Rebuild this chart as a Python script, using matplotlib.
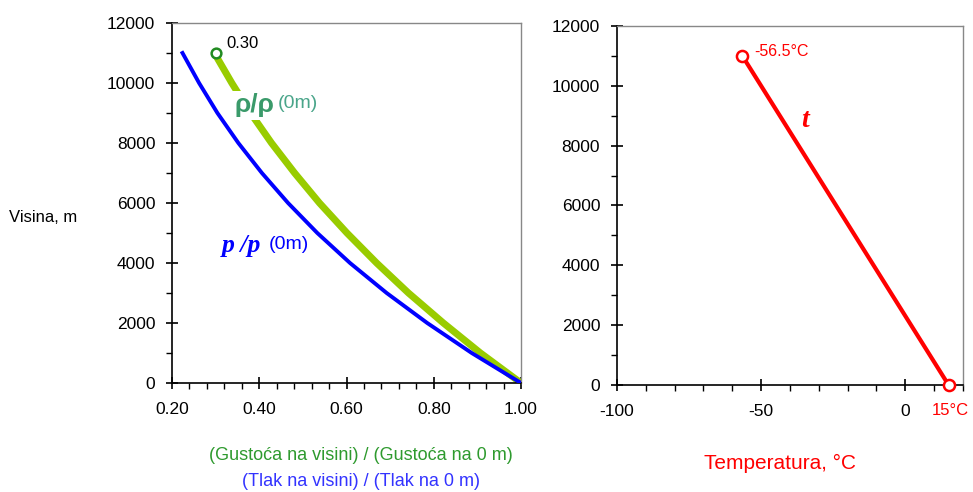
import matplotlib
matplotlib.use('Agg')
import matplotlib.pyplot as plt
from matplotlib.ticker import MultipleLocator, FormatStrFormatter

plt.rcParams['font.family'] = ['Liberation Sans', 'DejaVu Sans']
plt.rcParams['axes.unicode_minus'] = False

# ISA standard atmosphere
heights = [0, 1000, 2000, 3000, 4000, 5000, 6000, 7000, 8000, 9000, 10000, 11000]
pressure_ratio = [1.000, 0.887, 0.785, 0.692, 0.608, 0.533, 0.466, 0.406, 0.352, 0.304, 0.262, 0.224]
density_ratio = [1.000, 0.907, 0.822, 0.742, 0.669, 0.601, 0.538, 0.481, 0.428, 0.380, 0.337, 0.297]

temp_heights = [0, 11000]
temperatures = [15.0, -56.5]

density_top = 0.30


def style_axes(ax):
    for side in ['top', 'right']:
        ax.spines[side].set_color('#888888')
        ax.spines[side].set_linewidth(1.0)
    for side in ['left', 'bottom']:
        ax.spines[side].set_color('black')
        ax.spines[side].set_linewidth(1.2)
    ax.tick_params(which='major', direction='inout', length=8, width=1.2, labelsize=12.5, pad=8)
    ax.tick_params(axis='x', which='major', pad=10)
    ax.tick_params(which='minor', direction='out', length=4, width=1.0)
    ax.tick_params(top=False, right=False, which='both')
    ax.yaxis.set_major_locator(MultipleLocator(2000))
    ax.yaxis.set_minor_locator(MultipleLocator(1000))
    ax.set_ylim(0, 12000)


fig = plt.figure(figsize=(9.73, 4.92), dpi=100)

# left panel: pressure and density ratio
ax1 = fig.add_axes([0.1768, 0.2215, 0.3587, 0.7318])
style_axes(ax1)
ax1.set_xlim(0.2, 1.0)
ax1.xaxis.set_major_locator(MultipleLocator(0.2))
ax1.xaxis.set_minor_locator(MultipleLocator(0.04))
ax1.xaxis.set_major_formatter(FormatStrFormatter('%.2f'))

ax1.plot(density_ratio, heights, color='#99cc00', linewidth=5, solid_capstyle='butt', zorder=2)
ax1.plot(pressure_ratio, heights, color='#0000ff', linewidth=2.8, zorder=3)
ax1.plot([density_top], [heights[-1]], marker='o', markersize=7, markerfacecolor='white',
         markeredgecolor='#228b22', markeredgewidth=1.8, linestyle='none', zorder=4, clip_on=False)
ax1.text(0.325, 11300, '0.30', fontsize=12, color='black', va='center')

ax1.text(0.343, 9250, 'ρ/ρ', fontsize=19, color='#3a9a6a', va='center', weight='bold',
         bbox=dict(facecolor='white', edgecolor='none', pad=1.5), zorder=5)
ax1.text(0.443, 9300, '(0m)', fontsize=14, color='#4aa58a', va='center', zorder=5)

ax1.text(0.314, 4580, 'p /p', fontsize=18.5, color='#0000ff', va='center',
         family='Liberation Serif', weight='bold', style='italic', zorder=5)
ax1.text(0.422, 4620, '(0m)', fontsize=14, color='#0000ff', va='center', zorder=5)

fig.text(0.009, 0.558, 'Visina, m', fontsize=12, color='black', va='center', ha='left')
fig.text(0.371, 0.075, '(Gustoća na visini) / (Gustoća na 0 m)', fontsize=13, color='#2e9a2e', ha='center', va='center')
fig.text(0.371, 0.022, '(Tlak na visini) / (Tlak na 0 m)', fontsize=13, color='#3333ff', ha='center', va='center')

# right panel: temperature
ax2 = fig.add_axes([0.634, 0.2175, 0.3557, 0.7297])
style_axes(ax2)
ax2.set_xlim(-100, 20)
ax2.xaxis.set_major_locator(MultipleLocator(50))
ax2.xaxis.set_minor_locator(MultipleLocator(10))

ax2.plot(temperatures, temp_heights, color='#ff0000', linewidth=3, marker='o', markersize=8,
         markerfacecolor='white', markeredgecolor='#ff0000', markeredgewidth=1.8, clip_on=False, zorder=3)
ax2.text(-52.5, 11150, '-56.5°C', fontsize=11.5, color='#ff0000', va='center')
ax2.text(15.5, -850, '15°C', fontsize=12, color='#ff0000', ha='center', va='center')
ax2.text(-36, 8850, 't', fontsize=20, color='#ff0000', family='Liberation Serif',
         weight='bold', style='italic', va='center')

fig.text(0.8016, 0.059, 'Temperatura, °C', fontsize=15, color='#ff0000', ha='center', va='center')

fig.savefig('out.png', dpi=100)
